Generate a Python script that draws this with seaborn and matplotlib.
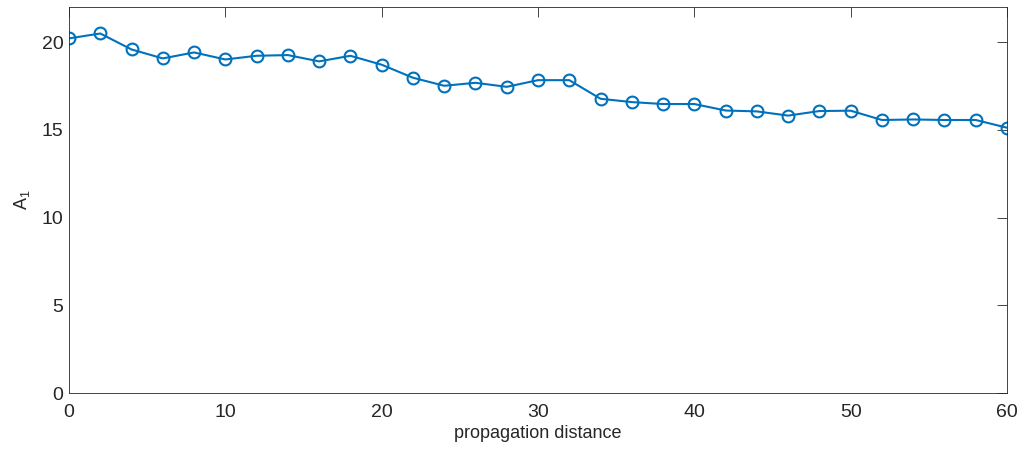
import matplotlib
matplotlib.use("Agg")
import matplotlib.pyplot as plt
import seaborn as sns
import pandas as pd

distance = [0, 2, 4, 6, 8, 10, 12, 14, 16, 18, 20, 22, 24, 26, 28, 30,
            32, 34, 36, 38, 40, 42, 44, 46, 48, 50, 52, 54, 56, 58, 60]
a1 = [20.21, 20.49, 19.58, 19.07, 19.41, 19.01, 19.22, 19.26, 18.90, 19.22,
      18.71, 17.97, 17.51, 17.68, 17.45, 17.83, 17.83, 16.77, 16.58, 16.47,
      16.47, 16.10, 16.05, 15.81, 16.07, 16.09, 15.56, 15.59, 15.56, 15.56,
      15.12]
xticks = [0, 10, 20, 30, 40, 50, 60]
yticks = [0, 5, 10, 15, 20]

sns.set_style("white")
plt.rcParams['font.family'] = ['Liberation Sans', 'DejaVu Sans']
plt.rcParams['mathtext.fontset'] = 'custom'
plt.rcParams['mathtext.rm'] = 'Liberation Sans'
plt.rcParams['mathtext.it'] = 'Liberation Sans'

df = pd.DataFrame({"distance": distance, "A1": a1})

fig = plt.figure(figsize=(10.26, 4.53), dpi=100)
ax = fig.add_axes([69/1026, 1 - 393/453, (1007 - 69)/1026, (393 - 7)/453])

color = "#0072BD"
sns.lineplot(data=df, x="distance", y="A1", ax=ax, color=color, linewidth=1.5,
             marker="o", markersize=8.5, markerfacecolor="none",
             markeredgecolor=color, markeredgewidth=1.5)

ax.set_xlim(0, 60)
ax.set_ylim(0, 22)
ax.set_xticks(xticks)
ax.set_yticks(yticks)
ax.tick_params(direction="in", length=7, width=0.6, colors="#262626",
               labelsize=14, top=True, right=True)
ax.tick_params(axis="x", pad=8)
ax.tick_params(axis="y", pad=4)
for s in ax.spines.values():
    s.set_visible(True)
    s.set_color("#262626")
    s.set_linewidth(0.6)

ax.set_xlabel("propagation distance", fontsize=13, color="#262626", labelpad=3)
ax.set_ylabel("A$_\\mathrm{1}$", fontsize=13, color="#262626", labelpad=7)

fig.savefig("out.png", dpi=100)
